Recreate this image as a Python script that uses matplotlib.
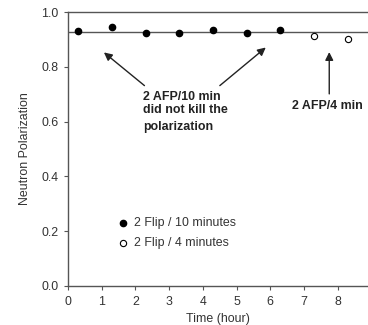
import matplotlib.pyplot as plt

plt.rcParams['font.family'] = ['Liberation Sans', 'DejaVu Sans']

# data
t_10min = [0.3, 1.3, 2.3, 3.3, 4.3, 5.3, 6.3]
p_10min = [0.932, 0.944, 0.922, 0.922, 0.933, 0.923, 0.933]
t_4min = [7.3, 8.3]
p_4min = [0.911, 0.903]
ref_level = 0.927

xticks = [0, 1, 2, 3, 4, 5, 6, 7, 8]
yticks = [0.0, 0.2, 0.4, 0.6, 0.8, 1.0]

note_lines = ["2 AFP/10 min", "did not kill the", "polarization"]
note_y = [0.689, 0.641, 0.582]

grey = "#555555"
txt = "#333333"
fs = 8.9

fig = plt.figure(figsize=(3.68, 3.25), dpi=100)
ax = fig.add_axes([0.185, 0.12, 0.815, 0.843])

ax.axhline(ref_level, color=grey, lw=1.0, zorder=1)
ax.plot(t_10min, p_10min, "o", color="black", ms=4.5, zorder=3)
ax.plot(t_4min, p_4min, "o", mfc="white", mec="black", mew=0.8, ms=4.5, zorder=3)

arrow = dict(arrowstyle="-|>", color="#222222", lw=1.0, mutation_scale=12)
ax.annotate("", xy=(1.0, 0.859), xytext=(2.33, 0.725), arrowprops=arrow)
ax.annotate("", xy=(5.93, 0.877), xytext=(4.44, 0.725), arrowprops=arrow)
ax.annotate("", xy=(7.75, 0.864), xytext=(7.75, 0.691), arrowprops=arrow)

for line, y in zip(note_lines, note_y):
    ax.text(2.22, y, line, fontsize=fs, fontweight="bold", color="#222222",
            ha="left", va="center")
ax.text(7.7, 0.657, "2 AFP/4 min", fontsize=fs, fontweight="bold",
        color="#222222", ha="center", va="center")

# hand-drawn legend
ax.plot([1.63], [0.23], "o", color="black", ms=4.5)
ax.plot([1.63], [0.158], "o", mfc="white", mec="black", mew=0.8, ms=4.5)
ax.text(1.97, 0.23, "2 Flip / 10 minutes", fontsize=fs, color=txt, va="center")
ax.text(1.97, 0.158, "2 Flip / 4 minutes", fontsize=fs, color=txt, va="center")

ax.set_xlim(0, 8.9)
ax.set_ylim(0, 1.0)
ax.set_xticks(xticks)
ax.set_yticks(yticks)
ax.set_yticklabels([f"{v:.1f}" for v in yticks])
ax.tick_params(colors=grey, labelcolor=txt, labelsize=fs, length=3, width=0.8,
               pad=4)
for s in ["left", "bottom", "top"]:
    ax.spines[s].set_color(grey)
    ax.spines[s].set_linewidth(1.0)
ax.spines["right"].set_visible(False)

ax.set_xlabel("Time (hour)", fontsize=fs, color=txt, labelpad=4)
ax.set_ylabel("Neutron Polarization", fontsize=fs, color=txt, labelpad=7)

fig.savefig("out.png", dpi=100)
